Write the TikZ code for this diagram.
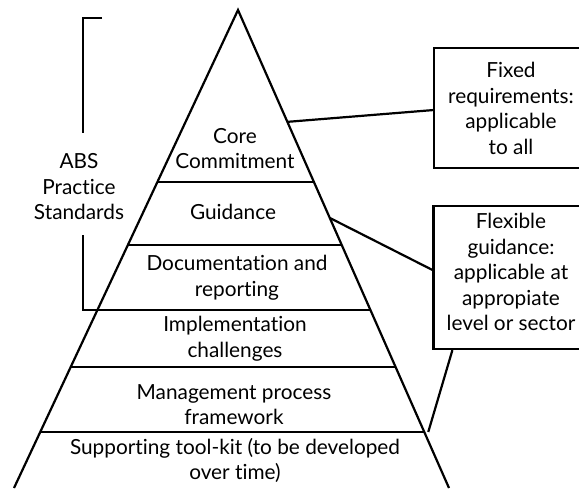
\documentclass[tikz,border=0pt]{standalone}
\usepackage{fontspec}
\setmainfont{Lato}[Ligatures=NoCommon]
\usetikzlibrary{calc}
\begin{document}
\begin{tikzpicture}[x=1pt,y=-1pt,
  ln/.style={line width=2.2pt},
  txt/.style={align=center, font=\fontsize{20.8}{25.5}\selectfont, inner sep=0pt},
  sidebox/.style={draw, line width=2.2pt, inner sep=0pt, minimum width=156pt}]
\useasboundingbox (0,0) rectangle (579,488);
% pyramid
\coordinate (apex) at (238,10);
\coordinate (bl) at (14,488);
\coordinate (br) at (449,488);
\foreach \n/\p in {1/0.3598,2/0.4916,3/0.6276,4/0.7469,5/0.8828} {
  \coordinate (L\n) at ($(apex)!\p!(bl)$);
  \coordinate (R\n) at ($(apex)!\p!(br)$);
}
\draw[ln, line join=miter] (bl) -- (apex) -- (br);
\foreach \n in {1,...,5} \draw[ln] (L\n) -- (R\n);
% layer texts
\node[txt] (core) at (235,148.5) {Core\\Commitment};
\node[txt] (guid) at (233,212) {Guidance};
\node[txt] (doc)  at (237,277.5) {Documentation and\\reporting};
\node[txt] (impl) at (235,338.5) {Implementation\\challenges};
\node[txt] (mgmt) at (234,404.5) {Management process\\framework};
\node[txt] (supp) at (235,460.5) {Supporting tool-kit (to be developed\\over time)};
% left bracket
\node[txt] (abs) at (79,187) {ABS\\Practice\\Standards};
\coordinate (brtop) at (102,18);
\coordinate (brup) at (83,133);
\coordinate (brlow) at (83,235);
\draw[ln] (brtop) -| (brup);
\draw[ln] (brlow) |- (L3);
% side boxes
\node[sidebox, minimum height=120pt] (fixed) at (512,108) {};
\node[txt] (fixedt) at (511,108.5) {Fixed\\requirements:\\applicable\\to all};
\node[sidebox, minimum height=143pt] (flex) at (511.5,277.5) {};
\node[txt] (flext) at (511,272) {Flexible\\guidance:\\applicable at\\appropiate\\level or sector};
% connectors
\coordinate (fixa) at ($(apex)!0.234!(br)$);
\coordinate (flexa) at ($(apex)!0.435!(br)$);
\coordinate (flexb) at ($(R5)+(4,0)$);
\draw[ln] (fixa) -- ($(fixed.north west)!0.517!(fixed.south west)$);
\draw[ln] (flexa) -- ($(flex.north west)!0.448!(flex.south west)$);
\draw[ln] (flexb) -- ([xshift=20pt]flex.south west);
\end{tikzpicture}
\end{document}
